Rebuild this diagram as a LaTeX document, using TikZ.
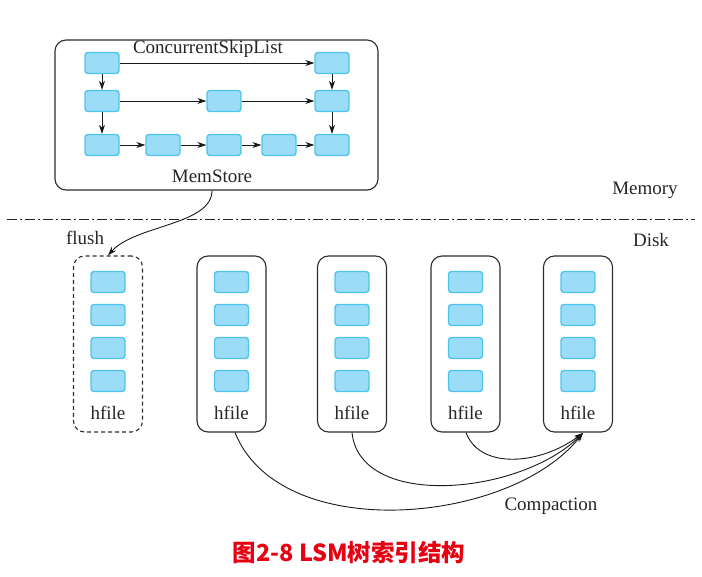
\documentclass[tikz,border=0pt]{standalone}
\usepackage{fontspec}
\setmainfont{Liberation Serif}
\newfontfamily\cjk{Noto Sans CJK SC}
\usetikzlibrary{arrows.meta}
\definecolor{blkfill}{RGB}{155,221,247}
\definecolor{blkdraw}{RGB}{78,196,236}
\definecolor{capred}{RGB}{230,0,18}
\definecolor{linegray}{RGB}{45,45,45}
\begin{document}
\begin{tikzpicture}[x=1pt,y=-1pt,
  blk/.style={draw=blkdraw,fill=blkfill,line width=1.4pt,rounded corners=3pt,minimum width=34pt,minimum height=21pt,inner sep=0pt},
  lbl/.style={font=\fontsize{19}{21}\selectfont,text=black!85,inner sep=0pt},
  container/.style={draw=linegray,line width=1.1pt,rounded corners=11pt,inner sep=0pt},
  filebox/.style={container,minimum width=69pt,minimum height=176pt},
  dashbox/.style={filebox,dash pattern=on 4pt off 3pt},
  arr/.style={-{Stealth[length=9pt,width=6pt]},line width=0.9pt,black!90},
  curvy/.style={-{Stealth[length=9pt,width=6pt]},line width=0.9pt,black!90}]
\useasboundingbox (0,0) rectangle (702,577);
% MemStore container
\node[container,minimum width=323pt,minimum height=150pt] (mem) at (216.5,115) {};
\node[lbl] (csl) at (208,49) {ConcurrentSkipList};
\node[lbl] (ms) at (212,176) {MemStore};
% skip list blocks
\node[blk] (s11) at (102,63) {};
\node[blk] (s15) at (332,63) {};
\node[blk] (s21) at (102,101) {};
\node[blk] (s23) at (224,101) {};
\node[blk] (s25) at (332,101) {};
\node[blk] (s31) at (102,145) {};
\node[blk] (s32) at (163,145) {};
\node[blk] (s33) at (224,145) {};
\node[blk] (s34) at (279,145) {};
\node[blk] (s35) at (332,145) {};
\draw[arr] (s11) -- (s15);
\draw[arr] (s11) -- (s21);
\draw[arr] (s21) -- (s31);
\draw[arr] (s21) -- (s23);
\draw[arr] (s23) -- (s25);
\draw[arr] (s15) -- (s25);
\draw[arr] (s25) -- (s35);
\draw[arr] (s31) -- (s32);
\draw[arr] (s32) -- (s33);
\draw[arr] (s33) -- (s34);
\draw[arr] (s34) -- (s35);
% separator
\coordinate (sepl) at (7,219);
\coordinate (sepr) at (695,219);
\draw[line width=0.9pt,black!85,dash pattern=on 10pt off 3pt on 2pt off 3pt] (sepl) -- (sepr);
\node[lbl] (memlbl) at (645,190) {Memory};
\node[lbl] (disklbl) at (651,240) {Disk};
% hfile containers
\node[dashbox] (h1) at (108,344) {};
\node[filebox] (h2) at (231.5,344) {};
\node[filebox] (h3) at (352,344) {};
\node[filebox] (h4) at (465.5,344) {};
\node[filebox] (h5) at (578,344) {};
\foreach \n/\x in {1/108,2/231.5,3/352,4/465.5,5/578}{
  \node[blk] (h\n a) at (\x,282) {};
  \node[blk] (h\n b) at (\x,315) {};
  \node[blk] (h\n c) at (\x,348) {};
  \node[blk] (h\n d) at (\x,381) {};
  \node[lbl] (h\n t) at (\x,413) {hfile};
}
\node[lbl] (flushlbl) at (85,238) {flush};
% flush arrow
\draw[curvy] (mem.south -| ms) .. controls (212,225) and (135,225) .. (h1.north);
% compaction arrows
\coordinate (tip) at (583,433);
\draw[curvy] ([xshift=3.5pt]h2.south) .. controls (280,545) and (510,525) .. (tip);
\draw[curvy] (h3.south) .. controls (360,510) and (520,495) .. (tip);
\draw[curvy] ([xshift=0.5pt]h4.south) .. controls (480,470) and (540,465) .. (tip);
\node[lbl] (comp) at (551,506) {Compaction};
% caption
\node[inner sep=0pt,text=capred,font=\cjk\bfseries\fontsize{23.5}{25}\selectfont] (cap) at (349,553) {图2-8 LSM树索引结构};
\end{tikzpicture}
\end{document}
